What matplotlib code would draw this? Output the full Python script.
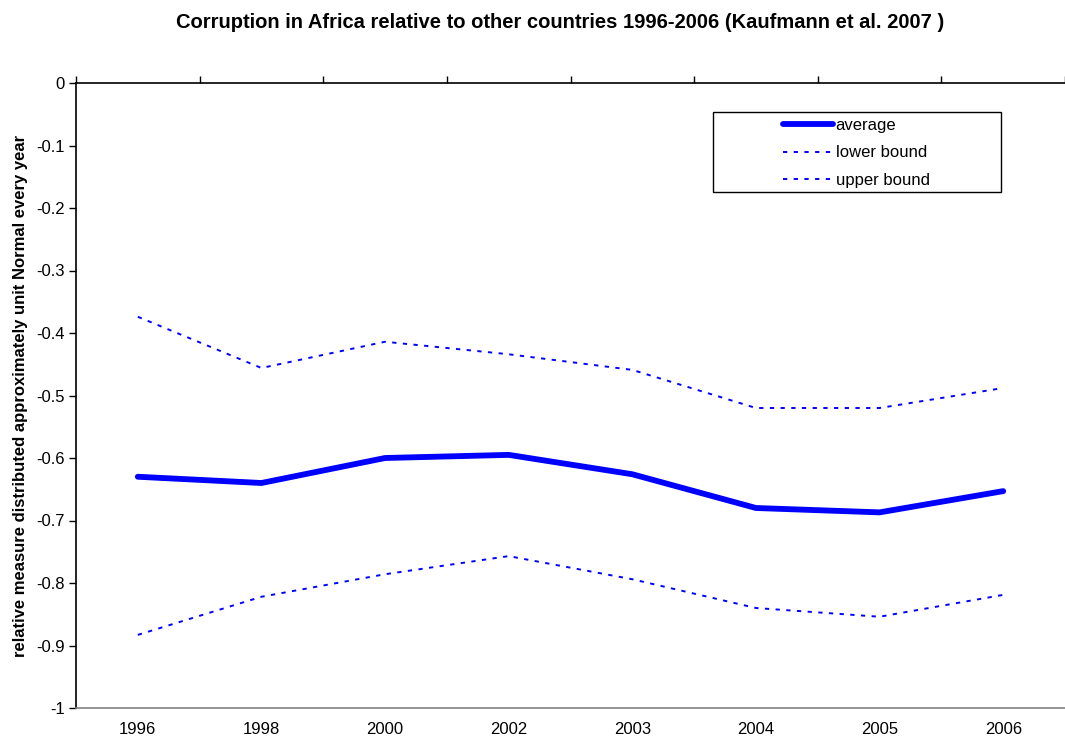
import matplotlib
matplotlib.use("Agg")
import matplotlib.pyplot as plt
from matplotlib.patches import Rectangle
from matplotlib.lines import Line2D

years = ["1996", "1998", "2000", "2002", "2003", "2004", "2005", "2006"]
average = [-0.630, -0.640, -0.600, -0.595, -0.626, -0.680, -0.687, -0.653]
upper_bound = [-0.374, -0.456, -0.414, -0.434, -0.459, -0.520, -0.520, -0.488]
lower_bound = [-0.883, -0.822, -0.786, -0.757, -0.794, -0.840, -0.854, -0.819]
yticks = [0, -0.1, -0.2, -0.3, -0.4, -0.5, -0.6, -0.7, -0.8, -0.9, -1]
ytick_labels = ["0", "-0.1", "-0.2", "-0.3", "-0.4", "-0.5", "-0.6", "-0.7", "-0.8", "-0.9", "-1"]

plt.rcParams['font.family'] = ['Liberation Sans', 'DejaVu Sans']

W, H = 1065, 740
fig = plt.figure(figsize=(W / 100, H / 100), dpi=100)
ax = fig.add_axes([76 / W, 1 - 708 / H, 1 - 76 / W, (708 - 83) / H])

x = list(range(len(years)))
dot = (0, (2.2, 3.3))
ax.plot(x, average, color="#0000ff", lw=4.2, solid_capstyle="round", label="average", zorder=3)
ax.plot(x, lower_bound, color="#0000ff", lw=1.4, linestyle=dot, label="lower bound")
ax.plot(x, upper_bound, color="#0000ff", lw=1.4, linestyle=dot, label="upper bound")

ax.set_xlim(-0.5, len(years) - 0.5)
ax.set_ylim(-1, 0)
ax.set_yticks(yticks)
ax.set_yticklabels(ytick_labels)

# category labels at bottom, no ticks; boundary ticks on top axis (category axis at 0)
ax.set_xticks(x)
ax.set_xticklabels(years)
ax.tick_params(axis="x", which="major", bottom=False, length=0, labelsize=12, pad=10, colors="black")
ax.set_xticks([i + 0.5 for i in range(-1, len(years))], minor=True)
ax.tick_params(axis="x", which="minor", top=True, bottom=False, direction="out", length=5, width=1)
ax.tick_params(axis="y", direction="out", length=5, width=1, labelsize=12, pad=3)

ax.spines["right"].set_visible(False)
ax.spines["bottom"].set_color("#808080")
ax.spines["bottom"].set_linewidth(1.2)
ax.spines["top"].set_color("black")
ax.spines["top"].set_linewidth(1.2)
ax.spines["left"].set_linewidth(1.2)

ax.set_ylabel("relative measure distributed approximately unit Normal every year",
              fontsize=12, fontweight="bold", labelpad=6)

fig.text(560 / W, 1 - 22 / H, "Corruption in Africa relative to other countries 1996-2006 (Kaufmann et al. 2007 )",
         ha="center", va="center", fontsize=14.5, fontweight="bold")

# legend frame
fig.patches.append(Rectangle((713 / W, 1 - 192 / H), (1001 - 713) / W, (192 - 112) / H,
                             transform=fig.transFigure, fill=False, edgecolor="black", lw=1.0))
handles = [Line2D([], [], color="#0000ff", lw=4.2, solid_capstyle="round"),
           Line2D([], [], color="#0000ff", lw=1.4, linestyle=dot),
           Line2D([], [], color="#0000ff", lw=1.4, linestyle=dot)]
leg = fig.legend(handles, ["average", "lower bound", "upper bound"],
                 loc="upper left", bbox_to_anchor=(783 / W, 1 - 118 / H),
                 frameon=False, fontsize=12, handlelength=3.0, handletextpad=0.15,
                 labelspacing=0.74, borderpad=0.0, borderaxespad=0)

fig.savefig("out.png", dpi=100)
